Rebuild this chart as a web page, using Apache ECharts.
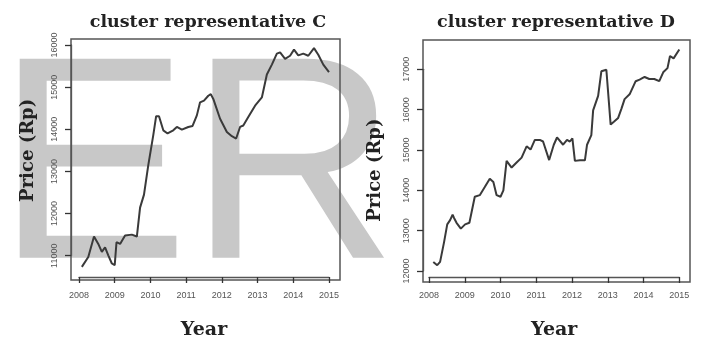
<!DOCTYPE html>
<html>
<head>
<meta charset="utf-8">
<script src="https://cdn.jsdelivr.net/npm/echarts@6/dist/echarts.min.js"></script>
<style>
  html, body { margin: 0; padding: 0; background: #fff; }
  #chart { width: 706px; height: 345px; }
</style>
</head>
<body>
<div id="chart"></div>
<script>
// Year ticks shared by both panels
var yearTicks = [2008, 2009, 2010, 2011, 2012, 2013, 2014, 2015];

// Cluster representative C
var cYears = [2008.08, 2008.26, 2008.42, 2008.54, 2008.64, 2008.73, 2008.82, 2008.92, 2009.0, 2009.05,
  2009.15, 2009.29, 2009.48, 2009.62, 2009.71, 2009.82, 2009.94, 2010.08, 2010.16, 2010.24,
  2010.36, 2010.48, 2010.64, 2010.74, 2010.88, 2011.06, 2011.18, 2011.30, 2011.39, 2011.50,
  2011.62, 2011.69, 2011.76, 2011.95, 2012.14, 2012.28, 2012.40, 2012.51, 2012.60, 2012.74,
  2012.93, 2013.12, 2013.26, 2013.40, 2013.54, 2013.63, 2013.77, 2013.91, 2014.02, 2014.14,
  2014.28, 2014.42, 2014.58, 2014.70, 2014.84, 2015.0];
var cPrices = [10735, 10970, 11455, 11280, 11090, 11200, 11010, 10815, 10775, 11320,
  11280, 11480, 11500, 11455, 12140, 12450, 13150, 13860, 14310, 14310,
  13975, 13900, 13975, 14055, 13990, 14055, 14080, 14330, 14640, 14680,
  14795, 14835, 14720, 14250, 13935, 13835, 13780, 14055, 14090, 14290,
  14560, 14755, 15300, 15535, 15795, 15825, 15670, 15745, 15890, 15755,
  15795, 15745, 15925, 15770, 15535, 15355];
var cTicks = [11000, 12000, 13000, 14000, 15000, 16000];

// Cluster representative D
var dYears = [2008.12, 2008.23, 2008.31, 2008.42, 2008.51, 2008.59, 2008.66, 2008.70, 2008.77, 2008.89,
  2009.01, 2009.13, 2009.28, 2009.42, 2009.56, 2009.70, 2009.80, 2009.89, 2010.0, 2010.08,
  2010.17, 2010.31, 2010.45, 2010.59, 2010.73, 2010.84, 2010.96, 2011.10, 2011.19, 2011.36,
  2011.49, 2011.58, 2011.75, 2011.86, 2011.94, 2012.01, 2012.08, 2012.22, 2012.36, 2012.42,
  2012.54, 2012.59, 2012.73, 2012.82, 2012.96, 2013.08, 2013.17, 2013.29, 2013.38, 2013.47,
  2013.61, 2013.78, 2013.89, 2014.03, 2014.16, 2014.30, 2014.44, 2014.55, 2014.67, 2014.74,
  2014.84, 2014.89, 2015.0];
var dPrices = [12225, 12145, 12225, 12710, 13155, 13260, 13395, 13315, 13195, 13050,
  13155, 13195, 13840, 13880, 14080, 14285, 14205, 13880, 13840, 14000,
  14730, 14565, 14690, 14810, 15090, 15010, 15250, 15250, 15210, 14750,
  15130, 15310, 15130, 15250, 15210, 15290, 14730, 14745, 14745, 15130,
  15370, 15980, 16340, 16950, 16990, 15630, 15700, 15795, 16020, 16260,
  16380, 16705, 16745, 16810, 16760, 16760, 16705, 16925, 17030, 17330,
  17270, 17310, 17490];
var dTicks = [12000, 13000, 14000, 15000, 16000, 17000];

function pairs(xs, ys) {
  return xs.map(function (x, i) { return [x, ys[i]]; });
}

var chart = echarts.init(document.getElementById('chart'));

var serif = '"DejaVu Serif", "Liberation Serif", serif';
var tickFont = { color: '#555', fontSize: 9, fontFamily: '"Liberation Sans", sans-serif' };
var plain = function (v) { return String(v); };

// R style: the axes span only first..last tick and sit pushed out onto the plot box
function xAxis(idx, offset) {
  return {
    type: 'value', gridIndex: idx, min: yearTicks[0], max: yearTicks[yearTicks.length - 1], interval: 1,
    offset: offset,
    name: 'Year', nameLocation: 'middle', nameGap: 44,
    nameTextStyle: { fontFamily: serif, fontWeight: 'bold', fontSize: 19, color: '#222' },
    axisLine: { show: true, lineStyle: { color: '#555', width: 1.3 } },
    axisTick: { show: true, length: 6, lineStyle: { color: '#333', width: 1.3 } },
    axisLabel: Object.assign({ margin: 14, formatter: plain }, tickFont),
    splitLine: { show: false }
  };
}

function yAxis(idx, ticks, offset, gap) {
  return {
    type: 'value', gridIndex: idx, min: ticks[0], max: ticks[ticks.length - 1], interval: 1000,
    offset: offset,
    name: 'Price (Rp)', nameLocation: 'middle', nameGap: gap,
    nameTextStyle: { fontFamily: serif, fontWeight: 'bold', fontSize: 18, color: '#222' },
    axisLine: { show: true, lineStyle: { color: '#555', width: 1.3 } },
    axisTick: { show: true, length: 6, lineStyle: { color: '#333', width: 1.3 } },
    axisLabel: Object.assign({ rotate: 90, margin: 12, formatter: plain }, tickFont),
    splitLine: { show: false }
  };
}

function hiddenAxis(idx) {
  return { type: 'value', gridIndex: idx, show: false, min: 0, max: 1 };
}

var option = {
  backgroundColor: '#fff',
  animation: false,
  graphic: [{
    type: 'text', z: -10, silent: true,
    style: {
      x: -4, y: 178, text: 'ER',
      font: '289px "Liberation Sans", Arial, sans-serif',
      fill: '#c8c8c8', verticalAlign: 'middle'
    }
  }],
  title: [
    { text: 'cluster representative C', left: 203, top: 8, textAlign: 'center',
      textStyle: { fontFamily: serif, fontWeight: 'bold', fontSize: 17.5, color: '#222' } },
    { text: 'cluster representative D', left: 551, top: 8, textAlign: 'center',
      textStyle: { fontFamily: serif, fontWeight: 'bold', fontSize: 17.5, color: '#222' } }
  ],
  grid: [
    // tick-range grids (2008..2015 and first..last price tick)
    { left: 79, top: 45, width: 250, height: 213.7 },
    { left: 429, top: 69.3, width: 250.3, height: 206.7 },
    // plot boxes
    { left: 71, top: 39, width: 269, height: 241, show: true, borderColor: '#555', borderWidth: 1.5, backgroundColor: 'transparent' },
    { left: 423, top: 40, width: 267, height: 242, show: true, borderColor: '#555', borderWidth: 1.5, backgroundColor: 'transparent' }
  ],
  xAxis: [xAxis(0, 21.3), xAxis(1, 6), hiddenAxis(2), hiddenAxis(3)],
  yAxis: [yAxis(0, cTicks, 8, 34), yAxis(1, dTicks, 6, 39), hiddenAxis(2), hiddenAxis(3)],
  series: [
    { type: 'line', xAxisIndex: 0, yAxisIndex: 0, data: pairs(cYears, cPrices), clip: false,
      showSymbol: false, lineStyle: { color: '#3a3a3a', width: 2 } },
    { type: 'line', xAxisIndex: 1, yAxisIndex: 1, data: pairs(dYears, dPrices), clip: false,
      showSymbol: false, lineStyle: { color: '#3a3a3a', width: 2 } }
  ]
};

chart.setOption(option);
</script>
</body>
</html>
